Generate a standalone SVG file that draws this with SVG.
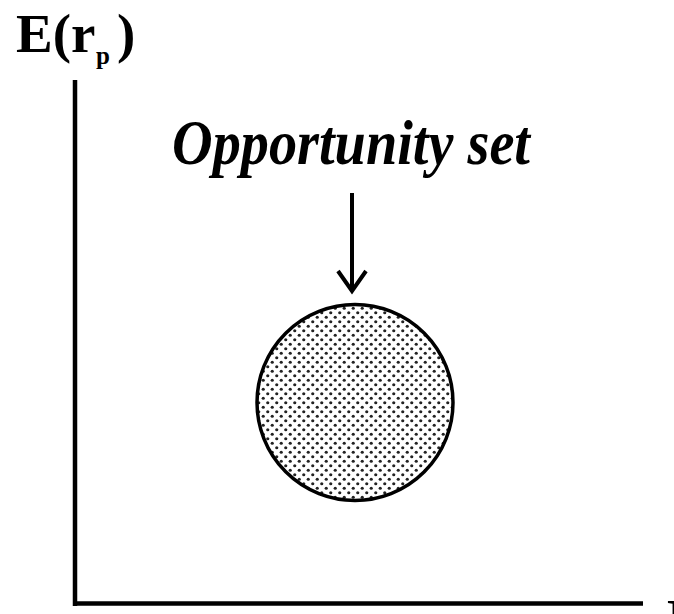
<svg xmlns="http://www.w3.org/2000/svg" width="674" height="614" viewBox="0 0 674 614">
<style>
.ax{stroke:#000;stroke-width:4.5;fill:none}
.lbl{font-family:"Liberation Serif","Times New Roman",serif;font-weight:bold;fill:#000}
.conn{stroke:#000;stroke-width:4;fill:none;stroke-linecap:butt}
</style>
<defs>
<pattern id="dots" width="9" height="9" patternUnits="userSpaceOnUse">
<circle cx="2.25" cy="2.25" r="1.6" fill="#222"/>
<circle cx="6.75" cy="6.75" r="1.6" fill="#222"/>
</pattern>
</defs>
<rect width="674" height="614" fill="#fff"/>
<g id="axes">
<line class="ax" x1="75" y1="80" x2="75" y2="606"/>
<line class="ax" x1="73" y1="603.5" x2="643" y2="603.5"/>
</g>
<g id="y-label">
<text class="lbl" x="16" y="52" font-size="55">E(r</text>
<text class="lbl" x="96" y="64" font-size="25">p</text>
<text class="lbl" x="117" y="52" font-size="55">)</text>
</g>
<g id="x-label">
<text class="lbl" x="667" y="637" font-size="55">E</text>
</g>
<g id="title">
<text class="lbl" x="172" y="164" font-size="64" font-style="italic" textLength="358" lengthAdjust="spacingAndGlyphs">Opportunity set</text>
</g>
<g id="connectors">
<line class="conn" x1="352" y1="193" x2="352" y2="289"/>
<polyline class="conn" points="338,271 352,291 366,271"/>
</g>
<g id="opportunity-set">
<circle cx="355" cy="402.5" r="98" fill="url(#dots)" stroke="#000" stroke-width="3.5"/>
</g>
</svg>
